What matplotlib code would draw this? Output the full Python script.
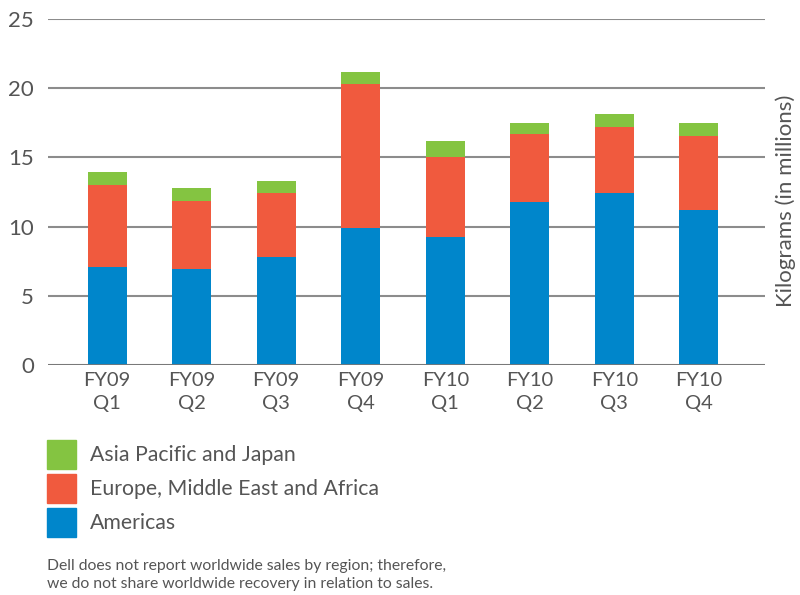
import matplotlib
matplotlib.use("Agg")
import matplotlib.pyplot as plt
import numpy as np

quarters = ["FY09\nQ1", "FY09\nQ2", "FY09\nQ3", "FY09\nQ4",
            "FY10\nQ1", "FY10\nQ2", "FY10\nQ3", "FY10\nQ4"]
americas = [7.1, 6.9, 7.8, 9.9, 9.25, 11.8, 12.45, 11.2]
emea = [5.9, 4.95, 4.65, 10.4, 5.75, 4.9, 4.75, 5.35]
apj = [0.95, 0.95, 0.85, 0.9, 1.15, 0.8, 0.95, 0.95]
yticks = [0, 5, 10, 15, 20, 25]

blue = "#0086cb"
red = "#f05a3e"
green = "#84c441"
txt = "#555555"

plt.rcParams['font.family'] = ['Lato', 'DejaVu Sans']

fig = plt.figure(figsize=(8, 5.95), dpi=100)
ax = fig.add_axes([0.06, 0.3866, 0.896, 0.5815])

x = np.arange(len(quarters))
w = 0.46
bottom2 = np.array(americas) + np.array(emea)
ax.bar(x, americas, w, color=blue, zorder=3)
ax.bar(x, emea, w, bottom=americas, color=red, zorder=3)
ax.bar(x, apj, w, bottom=bottom2, color=green, zorder=3)

ax.set_xlim(-0.70, 7.78)
ax.set_ylim(0, 25)
ax.set_yticks(yticks)
ax.set_xticks(x)
ax.set_xticklabels(quarters, fontsize=14.5, color=txt, linespacing=1.45)
ax.set_yticklabels([str(t) for t in yticks], fontsize=16, color=txt)
ax.tick_params(length=0)
ax.tick_params(axis='y', pad=10)
ax.tick_params(axis='x', pad=5)
ax.grid(axis='y', color='#8c8c8c', linewidth=1.5, zorder=0)
for s in ax.spines.values():
    s.set_visible(False)
ax.axhline(0, color='#777777', linewidth=2, zorder=4)

fig.text(0.995, 0.662, "Kilograms (in millions)", rotation=90, ha='right', va='center',
         fontsize=16, color=txt)

# legend
labels = ["Asia Pacific and Japan", "Europe, Middle East and Africa", "Americas"]
colors = [green, red, blue]
for i, (lab, c) in enumerate(zip(labels, colors)):
    top = 440 + i * 34
    fig.patches.append(plt.Rectangle((47 / 800, 1 - (top + 29) / 595), 29 / 800, 29 / 595,
                                     transform=fig.transFigure, color=c, figure=fig))
    fig.text(90 / 800, 1 - (top + 15) / 595, lab, ha='left', va='center',
             fontsize=15.3, color=txt)

fig.text(47 / 800, 1 - 575 / 595,
         "Dell does not report worldwide sales by region; therefore,\n"
         "we do not share worldwide recovery in relation to sales.",
         ha='left', va='center', fontsize=11.3, color=txt, linespacing=1.35)

fig.savefig("out.png", dpi=100)
